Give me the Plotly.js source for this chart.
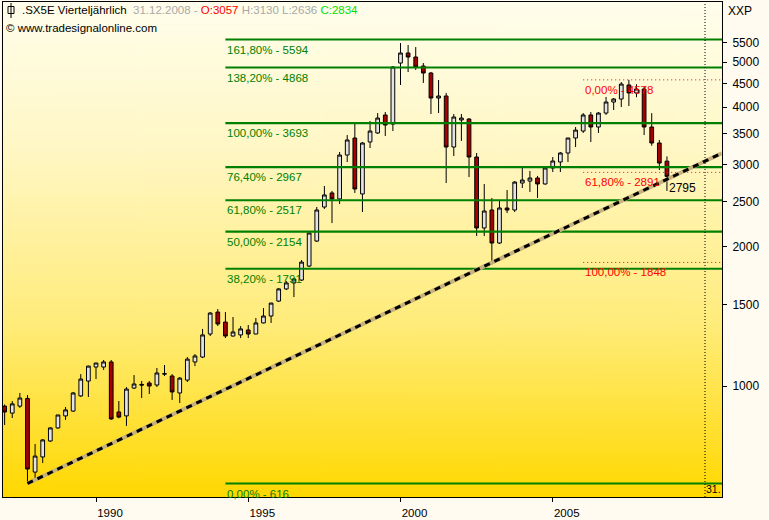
<!DOCTYPE html>
<html><head><meta charset="utf-8">
<script src="https://cdn.plot.ly/plotly-3.0.1.min.js"></script>
<style>html,body{margin:0;padding:0;background:#FFFBF0;} #chart{width:769px;height:520px;}</style>
</head><body><div id="chart"></div>
<script>
// ---------------- DATA ----------------
const quarters = [
 "1987Q1","1987Q2","1987Q3","1987Q4","1988Q1","1988Q2","1988Q3","1988Q4",
 "1989Q1","1989Q2","1989Q3","1989Q4","1990Q1","1990Q2","1990Q3","1990Q4",
 "1991Q1","1991Q2","1991Q3","1991Q4","1992Q1","1992Q2","1992Q3","1992Q4",
 "1993Q1","1993Q2","1993Q3","1993Q4","1994Q1","1994Q2","1994Q3","1994Q4",
 "1995Q1","1995Q2","1995Q3","1995Q4","1996Q1","1996Q2","1996Q3","1996Q4",
 "1997Q1","1997Q2","1997Q3","1997Q4","1998Q1","1998Q2","1998Q3","1998Q4",
 "1999Q1","1999Q2","1999Q3","1999Q4","2000Q1","2000Q2","2000Q3","2000Q4",
 "2001Q1","2001Q2","2001Q3","2001Q4","2002Q1","2002Q2","2002Q3","2002Q4",
 "2003Q1","2003Q2","2003Q3","2003Q4","2004Q1","2004Q2","2004Q3","2004Q4",
 "2005Q1","2005Q2","2005Q3","2005Q4","2006Q1","2006Q2","2006Q3","2006Q4",
 "2007Q1","2007Q2","2007Q3","2007Q4","2008Q1","2008Q2","2008Q3","2008Q4"
];
const openV = [
 905,874,905,940, 652,703,761,812, 862,883,952,1025, 1099,1099,1127,879,
 862,990,1008,1015, 1005,1061,1051,966, 1030,1127,1155,1295, 1444,1374,1282,1289,
 1321,1295,1368,1416, 1525,1620,1669,1693, 1815,2055,2434,2610, 2533,3151,3429,2597,
 3362,3516,3845,3676, 4977,5232,5128,4904, 4736,4183,4225,3279, 3750,3768,3120,2193,
 2398,2035,2422,2398, 2742,2769,2811,2729, 2954,3044,3183,3429, 3550,3845,3622,3882,
 4101,4162,4463,4290, 4375,3622,3345,3057
];
const highV = [
 912,928,966,956, 750,768,815,866, 901,971,1061,1106, 1122,1138,1138,928,
 995,1056,1025,1025, 1094,1110,1061,1046, 1155,1172,1328,1444, 1466,1444,1409,1347,
 1354,1402,1473,1512, 1628,1685,1711,1870, 2145,2434,2702,2636, 3199,3480,3694,3362,
 3731,3882,3902,4904, 5497,5443,5389,4977, 4760,4574,4290,3864, 3864,3787,3183,2729,
 2545,2520,2648,2769, 2954,2911,2840,2960, 3120,3199,3433,3622, 3882,3902,3902,4205,
 4183,4529,4578,4480, 4420,3880,3396,3130
];
const lowV = [
 824,853,897,617, 630,682,757,808, 845,879,947,947, 1035,1083,845,852,
 820,985,942,961, 995,1051,933,919, 1020,1104,1149,1282, 1347,1269,1278,1269,
 1269,1293,1365,1368, 1518,1611,1556,1685, 1806,2045,2411,2247, 2470,3044,2610,2374,
 3263,3499,3464,3550, 4463,4760,4808,4508, 3864,3882,2742,3135, 3379,2825,2107,2107,
 1848,2025,2362,2374, 2675,2623,2545,2720, 2896,2896,3044,3279, 3516,3362,3516,3845,
 3941,4000,4020,4200, 3480,3300,2925,2636
];
const closeV = [
 879,915,942,662, 706,765,812,866, 888,966,1035,1104, 1121,1127,849,857,
 985,1010,1005,1000, 1067,1063,971,1040, 1143,1161,1289,1437, 1361,1282,1308,1328,
 1295,1368,1416,1510, 1620,1669,1702,1851, 2139,2398,2584,2533, 3151,3396,2662,3345,
 3550,3787,3658,4880, 5232,5128,4880,4736, 4183,4225,3279,3806, 3787,3120,2193,2386,
 2035,2422,2398,2755, 2783,2811,2729,2954, 3059,3183,3429,3567, 3845,3622,3882,4101,
 4162,4484,4290,4375, 3622,3345,3028,2834
];

// Fibonacci levels (green, long-term)
const fibPct = ["0,00","38,20","50,00","61,80","76,40","100,00","138,20","161,80"];
const fibVal = [616,1791,2154,2517,2967,3693,4868,5594];
const fibStart = 1994.25;
// Fibonacci retracement (red, 2007 top)
const redPct = ["0,00","61,80","100,00"];
const redVal = [4578,2891,1848];
const redStart = 2006.0;
// Trend line
const trendX = [1987.75, 2010.55];
const trendY = [616, 3180];
const trendLabelX = 2008.75, trendLabelV = 2795;

const xTicks = [1990,1995,2000,2005];
const yTicks = [1000,1500,2000,2500,3000,3500,4000,4500,5000,5500];
const markerYear = 2010.0;
const headerDate = "31.12.2008";

// ---------------- LAYOUT HELPERS ----------------
const X0 = 1986.946, X1 = 2010.558;
const Y0 = 2.7605, Y1 = 3.8287;
const FONT = "Liberation Sans, Arial, sans-serif";
const PW = 719, PH = 495, PL = 3, PT = 2;
const px = p => (p - PL) / PW;
const py = p => (PH + PT - p) / PH;

const qx = quarters.map(q => +q.slice(0,4) + (+q[5]-1)*0.25);

// background gradient
const cv = document.createElement('canvas'); cv.width = 8; cv.height = 400;
const cx = cv.getContext('2d');
const g = cx.createLinearGradient(0,0,0,400);
g.addColorStop(0,'#FFFEEC'); g.addColorStop(0.3,'#FFF7C4');
g.addColorStop(0.65,'#FFEC7A'); g.addColorStop(1,'#FFD800');
cx.fillStyle = g; cx.fillRect(0,0,8,400);
const bgURL = cv.toDataURL();

// ---------------- TRACES ----------------
const traces = [];
traces.push({
  type:'candlestick', x:qx, open:openV, high:highV, low:lowV, close:closeV,
  width:0.165, whiskerwidth:0,
  increasing:{line:{color:'#000000',width:1}, fillcolor:'#E4E4E4'},
  decreasing:{line:{color:'#000000',width:1}, fillcolor:'#A80000'},
  showlegend:false, hoverinfo:'skip'
});
// green fib lines
let gx=[], gy=[];
fibVal.forEach(v=>{gx.push(fibStart,X1,null); gy.push(v,v,null);});
traces.push({type:'scatter',mode:'lines',x:gx,y:gy,line:{color:'#008000',width:2.2},showlegend:false,hoverinfo:'skip'});
// red dotted
let rx=[], ry=[];
redVal.forEach(v=>{rx.push(redStart,X1,null); ry.push(v,v,null);});
traces.push({type:'scatter',mode:'lines',x:rx,y:ry,line:{color:'#FF0000',width:1,dash:'1px,3px'},showlegend:false,hoverinfo:'skip'});
// trend line: shadow + dashes
traces.push({type:'scatter',mode:'lines',x:trendX,y:trendY,line:{color:'#C8B27C',width:4},showlegend:false,hoverinfo:'skip'});
traces.push({type:'scatter',mode:'lines',x:trendX,y:trendY,line:{color:'#000000',width:3,dash:'6px,5px'},showlegend:false,hoverinfo:'skip'});

// ---------------- ANNOTATIONS ----------------
const ann = [];
fibVal.forEach((v,i)=>{
  ann.push({x:fibStart,y:Math.log10(v),xref:'x',yref:'y',text:fibPct[i]+'% - '+v,showarrow:false,
    xanchor:'left',yanchor:'top',yshift:-2,font:{family:FONT,size:11.5,color:'#008000'}});
});
redVal.forEach((v,i)=>{
  ann.push({x:redStart,y:Math.log10(v),xref:'x',yref:'y',text:redPct[i]+'% - '+v,showarrow:false,
    xanchor:'left',yanchor:'top',yshift:-2,font:{family:FONT,size:11.5,color:'#FF0000'}});
});
ann.push({x:trendLabelX,y:Math.log10(trendLabelV),xref:'x',yref:'y',text:String(trendLabelV),showarrow:false,
  xanchor:'left',yanchor:'top',yshift:0,font:{family:FONT,size:12,color:'#000000'}});
const last = quarters.length-1;
ann.push({x:px(20),y:py(10),xref:'paper',yref:'paper',xanchor:'left',yanchor:'middle',showarrow:false,
  font:{family:FONT,size:11.5,color:'#000000'},
  text:'.SX5E Vierteljährlich  <span style="color:#A8A8A8">'+headerDate+' - </span><span style="color:#FF0000">O:'+openV[last]+'</span> <span style="color:#A8A8A8">H:'+highV[last]+' L:'+lowV[last]+'</span> <span style="color:#00E000">C:'+closeV[last]+'</span>'});
ann.push({x:px(4),y:py(28),xref:'paper',yref:'paper',xanchor:'left',yanchor:'middle',showarrow:false,
  font:{family:FONT,size:11.5,color:'#000000'},text:'© www.tradesignalonline.com'});
ann.push({x:px(726),y:py(11),xref:'paper',yref:'paper',xanchor:'left',yanchor:'middle',showarrow:false,
  font:{family:FONT,size:12,color:'#000000'},text:'XXP'});
ann.push({x:markerYear,y:py(489),xref:'x',yref:'paper',xanchor:'left',yanchor:'middle',xshift:-1,showarrow:false,
  font:{family:FONT,size:10.5,color:'#000000'},text:'31.'});

// ---------------- SHAPES ----------------
const shapes = [
  {type:'line',xref:'x',yref:'paper',x0:markerYear,x1:markerYear,y0:0,y1:1,line:{color:'#000000',width:1,dash:'1px,2px'}},
  // candle icon
  {type:'line',xref:'paper',yref:'paper',x0:px(11),x1:px(11),y0:py(3),y1:py(18),line:{color:'#000',width:1}},
  {type:'rect',xref:'paper',yref:'paper',x0:px(8),x1:px(14),y0:py(6.5),y1:py(13.5),line:{color:'#000',width:1},fillcolor:'rgba(0,0,0,0)'}
];

const layout = {
  width:769, height:520,
  margin:{l:PL,r:769-PL-PW,t:PT,b:520-PT-PH,pad:0},
  paper_bgcolor:'#FFFBF0', plot_bgcolor:'rgba(0,0,0,0)',
  showlegend:false,
  images:[{source:bgURL,xref:'paper',yref:'paper',x:0,y:1,sizex:1,sizey:1,sizing:'stretch',xanchor:'left',yanchor:'top',layer:'below'}],
  xaxis:{type:'linear',range:[X0,X1],tickvals:xTicks,ticktext:xTicks.map(String),ticks:'outside',ticklen:4,tickcolor:'#000',
    showgrid:false,zeroline:false,showline:true,mirror:true,linecolor:'#000',linewidth:1,
    tickfont:{family:FONT,size:11.5,color:'#000'},ticklabelshift:14,ticklabelstandoff:1,rangeslider:{visible:false},fixedrange:true},
  yaxis:{type:'log',range:[Y0,Y1],side:'right',tickvals:yTicks,ticktext:yTicks.map(String),ticks:'outside',ticklen:4,tickcolor:'#000',
    showgrid:false,zeroline:false,showline:true,mirror:true,linecolor:'#000',linewidth:1,
    tickfont:{family:FONT,size:12,color:'#000'},ticklabelstandoff:3,fixedrange:true},
  annotations:ann, shapes:shapes
};
Plotly.newPlot('chart',traces,layout,{displayModeBar:false,staticPlot:true});
</script></body></html>
